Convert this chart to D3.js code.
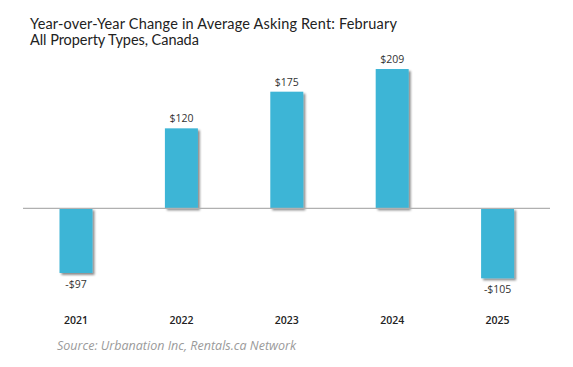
<!DOCTYPE html>
<html><head><meta charset="utf-8">
<script src="https://cdn.jsdelivr.net/npm/d3@7"></script>
<style>body{margin:0;background:#fff;} svg{display:block;}</style>
</head><body>
<svg id="c" width="573" height="367"></svg>
<script>
const years = ["2021","2022","2023","2024","2025"];
const values = [-97, 120, 175, 209, -105];
const valueLabels = ["-$97","$120","$175","$209","-$105"];
const titleLines = ["Year-over-Year Change in Average Asking Rent: February","All Property Types, Canada"];
const sourceText = "Source: Urbanation Inc, Rentals.ca Network";

const svg = d3.select("#c");
const font = "'Open Sans', Lato, sans-serif";
const titleFont = "Lato, 'Open Sans', sans-serif";

// adjust letter spacing so text width matches a target width
function fit(sel, target) {
  sel.each(function() {
    const n = this.textContent.length;
    const w = this.getComputedTextLength();
    const ls = (target - w) / Math.max(1, n - 1);
    d3.select(this).attr("letter-spacing", ls.toFixed(2));
  });
}

const defs = svg.append("defs");
const f = defs.append("filter").attr("id","sh").attr("x","-20%").attr("y","-20%").attr("width","150%").attr("height","150%");
f.append("feDropShadow").attr("dx",2).attr("dy",2).attr("stdDeviation",1.2).attr("flood-color","#000").attr("flood-opacity",0.45);

const x = d3.scaleBand().domain(years).range([23.3, 550.3]).paddingInner(0.687).paddingOuter(0.3435);
const y = d3.scaleLinear().domain([-150, 250]).range([308.3, 41.7]);

const tl = svg.append("g").selectAll("text").data(titleLines).join("text")
  .attr("x", 30).attr("y", (d,i)=> 28.5 + i*16.5)
  .attr("font-family", titleFont).attr("font-size", 14.5).attr("fill", "#222")
  .text(d=>d);
fit(tl.filter((d,i)=>i===0), 367);
fit(tl.filter((d,i)=>i===1), 169);

svg.append("g").selectAll("rect").data(values).join("rect")
  .attr("x", (d,i)=>x(years[i]))
  .attr("width", x.bandwidth())
  .attr("y", d=>y(Math.max(0,d)))
  .attr("height", d=>Math.abs(y(d)-y(0)))
  .attr("fill", "#3db5d6")
  .attr("filter","url(#sh)");

svg.append("line").attr("x1",23).attr("x2",550).attr("y1",y(0)).attr("y2",y(0))
  .attr("stroke","#b0b0b0").attr("stroke-width",1.2);

svg.append("g").selectAll("text").data(values).join("text")
  .attr("x",(d,i)=>x(years[i])+x.bandwidth()/2)
  .attr("y", d=> d>=0 ? y(d)-6 : y(d)+15)
  .attr("text-anchor","middle")
  .attr("font-family", font).attr("font-size", 10.5).attr("fill","#333")
  .text((d,i)=>valueLabels[i]);

const ax = svg.append("g").attr("transform","translate(0,317)")
  .call(d3.axisBottom(x).tickSize(0).tickPadding(0));
ax.select(".domain").remove();
ax.selectAll("text").attr("font-family", font).attr("font-size", 10.5).attr("font-weight", 600).attr("fill","#222").attr("dy","0.71em");

const src = svg.append("text").attr("x",57).attr("y",350)
  .attr("font-family", font).attr("font-size", 12.5).attr("font-style","italic").attr("fill","#9a9a9a")
  .text(sourceText);
fit(src, 239);
</script>
</body></html>
